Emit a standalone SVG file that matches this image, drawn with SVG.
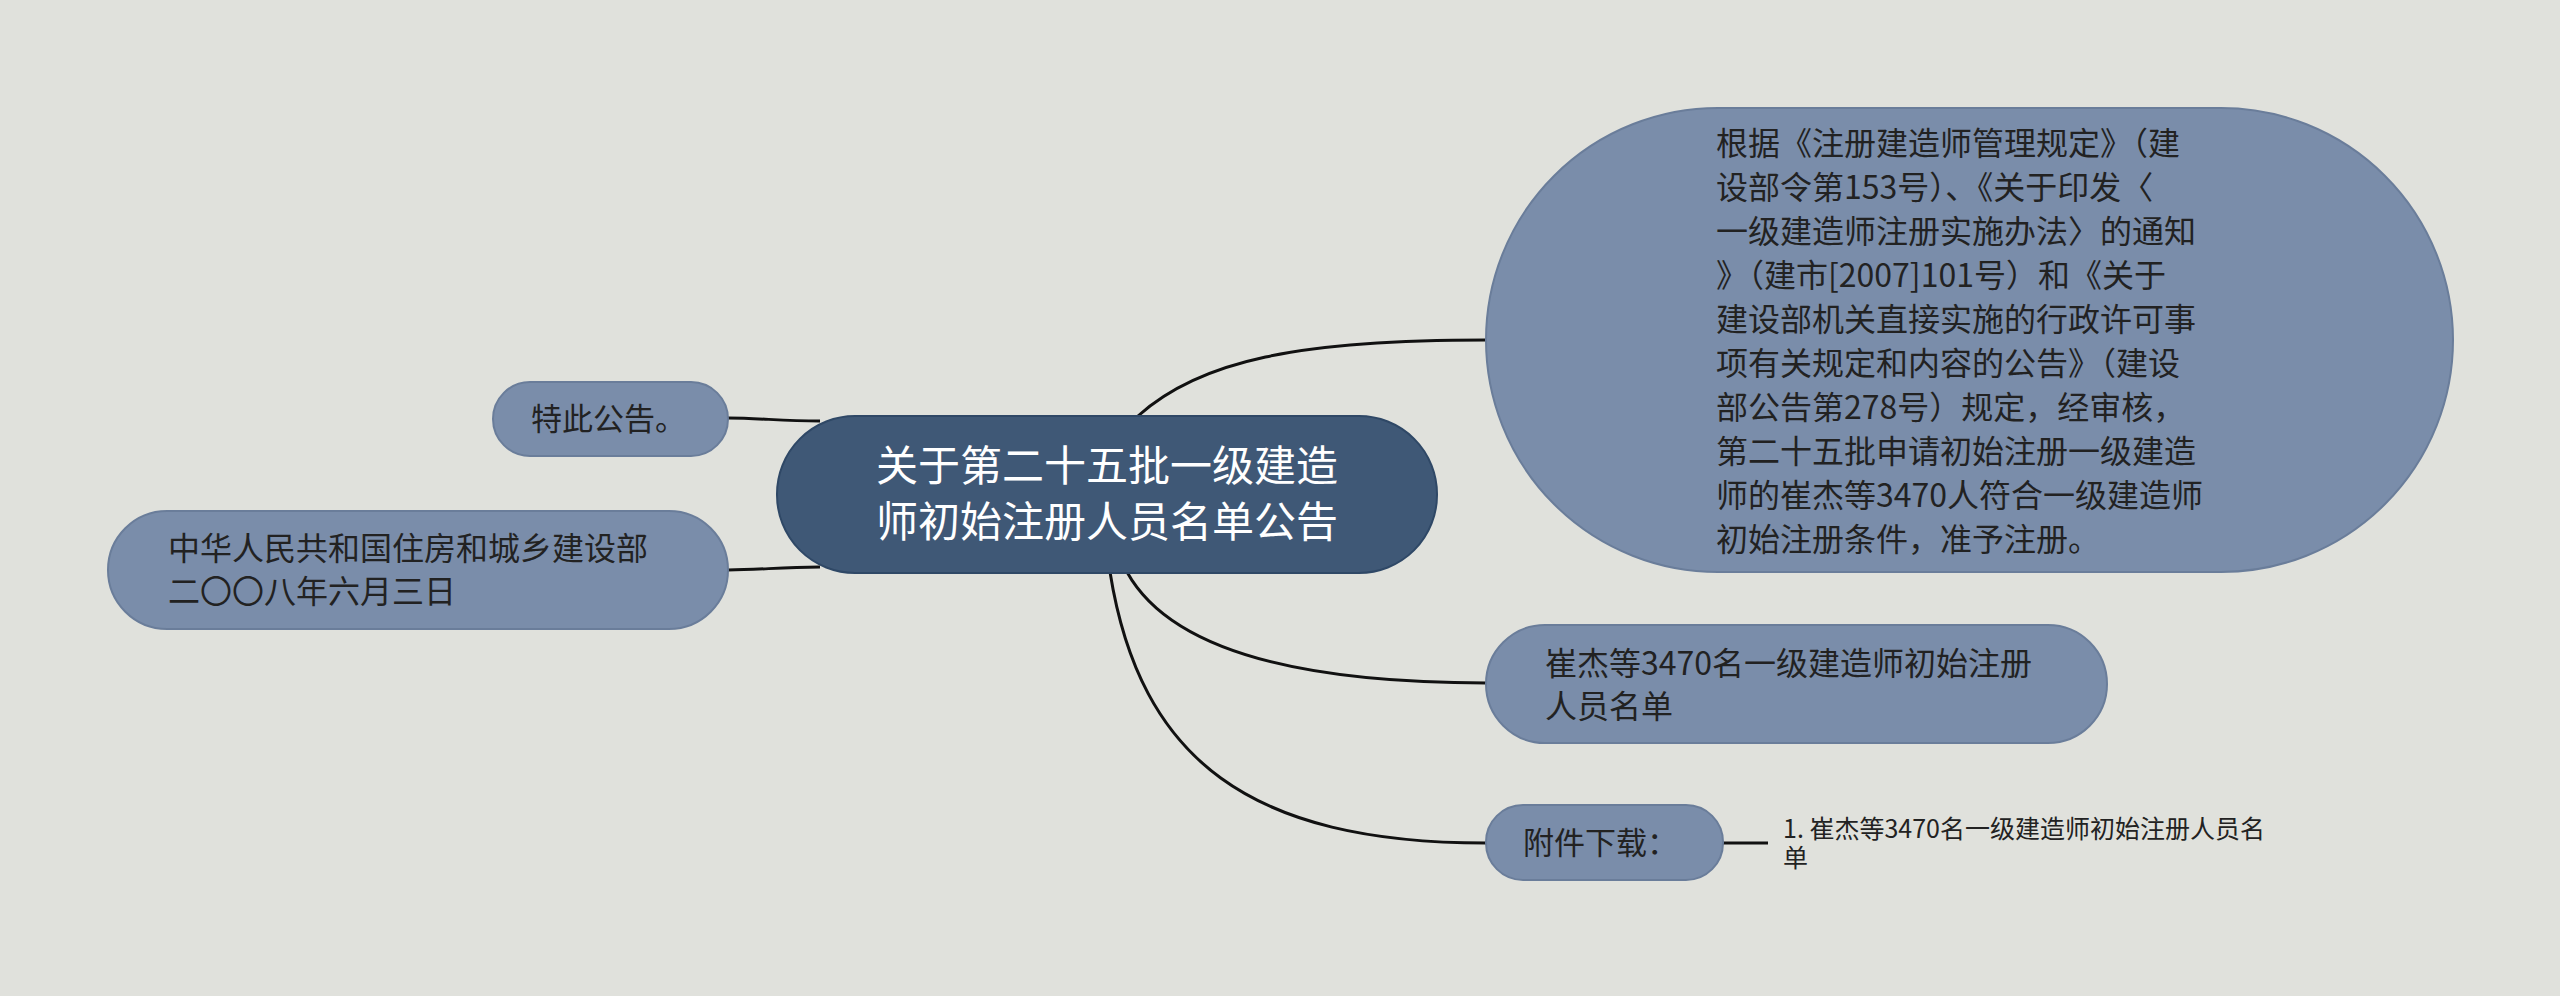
<svg xmlns="http://www.w3.org/2000/svg" width="2560" height="996" viewBox="0 0 2560 996">
<style>
text{font-family:"Noto Sans CJK SC","Noto Sans",sans-serif;fill:#222;}
.n{fill:#7a8daa;stroke:#6a7d9a;stroke-width:2}
.c{fill:none;stroke:#111;stroke-width:3}
</style>
<rect width="2560" height="996" fill="#e0e1dc"/>
<g id="connectors">
<path class="c" d="M1138 416 C1200 360 1300 340 1486 340"/>
<path class="c" d="M1127 572 C1170 650 1300 683 1486 683"/>
<path class="c" d="M1110 572 C1140 760 1250 843 1486 843"/>
<path class="c" d="M1723 843 L1768 843"/>
<path class="c" d="M728 418 C760 418 780 421 820 421"/>
<path class="c" d="M728 570 C760 570 780 567 820 567"/>
</g>
<g id="center">
<rect x="777" y="416" width="660" height="157" rx="78" fill="#3f5876" stroke="#2f4866" stroke-width="2"/>
<text x="1107" y="481" font-size="42" text-anchor="middle" style="fill:#fff">关于第二十五批一级建造</text>
<text x="1107" y="537" font-size="42" text-anchor="middle" style="fill:#fff">师初始注册人员名单公告</text>
</g>
<g id="main">
<rect class="n" x="1486" y="108" width="967" height="464" rx="232"/>
<text font-size="32">
<tspan x="1716" y="155">根据《注册建造师管理规定》（建</tspan>
<tspan x="1716" y="199">设部令第153号）、《关于印发〈</tspan>
<tspan x="1716" y="243">一级建造师注册实施办法〉的通知</tspan>
<tspan x="1716" y="287">》（建市[2007]101号）和《关于</tspan>
<tspan x="1716" y="331">建设部机关直接实施的行政许可事</tspan>
<tspan x="1716" y="375">项有关规定和内容的公告》（建设</tspan>
<tspan x="1716" y="419">部公告第278号）规定，经审核，</tspan>
<tspan x="1716" y="463">第二十五批申请初始注册一级建造</tspan>
<tspan x="1716" y="507">师的崔杰等3470人符合一级建造师</tspan>
<tspan x="1716" y="551">初始注册条件，准予注册。</tspan>
</text>
</g>
<g id="list">
<rect class="n" x="1486" y="625" width="621" height="118" rx="59"/>
<text x="1545" y="675" font-size="32">崔杰等3470名一级建造师初始注册</text>
<text x="1545" y="718" font-size="32">人员名单</text>
</g>
<g id="attach">
<rect class="n" x="1486" y="805" width="237" height="75" rx="37"/>
<text x="1523" y="854" font-size="31">附件下载：</text>
</g>
<g id="attach-item">
<text x="1783" y="838" font-size="25">1. 崔杰等3470名一级建造师初始注册人员名</text>
<text x="1783" y="867" font-size="25">单</text>
</g>
<g id="notice">
<rect class="n" x="493" y="382" width="235" height="74" rx="37"/>
<text x="531" y="430" font-size="31">特此公告。</text>
</g>
<g id="sign">
<rect class="n" x="108" y="511" width="620" height="118" rx="59"/>
<text x="168" y="560" font-size="32">中华人民共和国住房和城乡建设部</text>
<text x="168" y="603" font-size="32">二〇〇八年六月三日</text>
</g>
</svg>
